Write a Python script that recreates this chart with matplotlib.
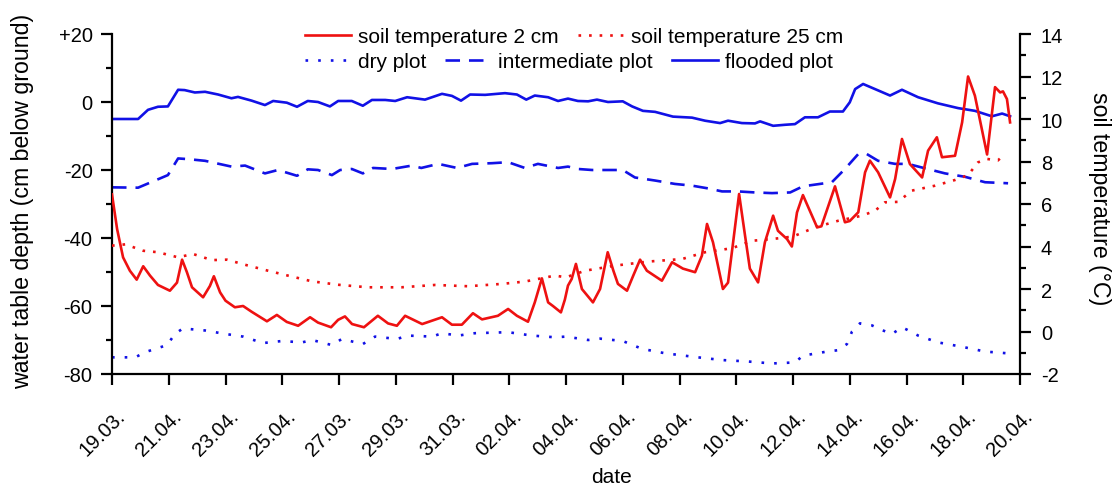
import matplotlib
matplotlib.use("Agg")
import matplotlib.pyplot as plt
from matplotlib.lines import Line2D
from matplotlib.transforms import ScaledTranslation

plt.rcParams['font.family'] = ['Liberation Sans', 'DejaVu Sans']

# ---------------- data ----------------
tick_days = [0, 2, 4, 6, 8, 10, 12, 14, 16, 18, 20, 22, 24, 26, 28, 30, 32]
tick_labels = ["19.03.", "21.04.", "23.04.", "25.04.", "27.03.", "29.03.", "31.03.",
               "02.04.", "04.04.", "06.04.", "08.04.", "10.04.", "12.04.", "14.04.",
               "16.04.", "18.04.", "20.04."]

flood_days = [0, 0.92, 1.27, 1.62, 1.97, 2.33, 2.56, 2.92, 3.28, 3.74, 4.21, 4.44, 4.92,
              5.39, 5.68, 6.16, 6.52, 6.9, 7.26, 7.68, 7.97, 8.45, 8.84, 9.16, 9.63, 9.98,
              10.4, 11.03, 11.63, 11.98, 12.3, 12.62, 13.15, 13.85, 14.27, 14.6, 14.9,
              15.37, 15.72, 16.07, 16.42, 16.78, 17.09, 17.48, 18.0, 18.33, 18.71, 19.14,
              19.77, 20.44, 20.9, 21.43, 21.71, 22.2, 22.66, 22.84, 23.3, 23.72, 24.07,
              24.42, 24.88, 25.3, 25.76, 26.0, 26.19, 26.47, 26.89, 27.42, 27.84, 28.41,
              29.11, 29.82, 30.41, 31.01, 31.37, 31.65]
flood_depth = [-5.0, -5.0, -2.3, -1.4, -1.3, 3.6, 3.5, 2.8, 3.0, 2.2, 1.1, 1.5, 0.4,
               -0.9, 0.3, -0.2, -1.4, 0.3, 0.0, -1.3, 0.3, 0.3, -1.1, 0.6, 0.6, 0.3,
               1.4, 0.7, 2.4, 1.8, 0.4, 2.2, 2.1, 2.6, 2.2, 0.7, 1.9,
               1.4, 0.3, 1.0, 0.3, 0.2, 0.7, 0.0, 0.2, -1.3, -2.6, -2.9,
               -4.3, -4.6, -5.5, -6.2, -5.5, -6.2, -6.3, -5.7, -7.0, -6.7, -6.5,
               -4.5, -4.5, -2.8, -2.8, -0.1, 3.8, 5.3, 3.8, 1.9, 3.6, 1.4,
               -0.4, -1.8, -2.6, -4.2, -3.4, -4.2]

inter_days = [0, 0.92, 1.97, 2.33, 2.68, 3.28, 4.21, 4.69, 5.39, 5.85, 6.52, 6.9, 7.26,
              7.75, 8.04, 8.45, 8.84, 9.2, 9.87, 10.57, 10.9, 11.5, 12.16, 12.69, 13.39,
              13.96, 14.55, 15.01, 15.72, 16.07, 16.42, 16.92, 17.62, 18.0, 18.43, 19.14,
              19.84, 20.44, 21.0, 21.5, 22.06, 22.66, 23.26, 23.9, 24.35, 25.37, 25.83,
              26.3, 26.6, 27.0, 27.6, 28.05, 28.65, 29.36, 30.06, 30.77, 31.58]
inter_depth = [-25.1, -25.2, -21.5, -16.6, -16.8, -17.3, -19.0, -18.7, -21.0, -20.0, -21.7,
               -19.8, -20.0, -21.5, -20.0, -19.7, -21.0, -19.4, -19.7, -18.7, -19.4, -18.2,
               -19.4, -18.2, -18.0, -17.7, -19.4, -18.2, -19.4, -19.0, -19.7, -20.0, -20.0,
               -20.0, -22.2, -23.1, -24.1, -24.6, -25.4, -26.3, -26.3, -26.6, -26.8, -26.6,
               -24.8, -23.6, -19.7, -15.3, -15.3, -17.3, -18.2, -18.2, -19.5, -21.0, -22.0,
               -23.6, -23.9]

dry_days = [0, 0.82, 1.16, 1.94, 2.22, 2.5, 3.28, 3.98, 4.62, 5.32, 5.99, 6.7, 7.05, 7.75,
            8.1, 8.84, 9.27, 10.04, 10.43, 11.28, 11.63, 12.2, 12.79, 13.96, 14.8, 15.61,
            16.0, 16.78, 17.2, 18.0, 18.68, 19.49, 20.65, 21.5, 22.38, 23.26, 24.07, 24.35,
            25.2, 25.59, 25.9, 26.08, 26.36, 26.78, 27.14, 27.49, 27.84, 28.0, 28.41,
            29.11, 29.96, 30.77, 31.54]
dry_depth = [-75.1, -75.1, -73.6, -71.5, -68.2, -66.6, -67.2, -68.2, -69.0, -70.9, -70.3,
             -70.7, -70.0, -71.5, -69.7, -71.2, -69.0, -69.7, -68.7, -69.0, -68.0, -68.7,
             -68.0, -67.7, -68.7, -69.2, -69.0, -70.0, -69.6, -70.3, -72.6, -73.9, -75.1,
             -75.9, -76.3, -76.9, -76.6, -74.6, -73.4, -73.0, -71.2, -67.5, -65.1, -65.7,
             -67.1, -68.2, -66.3, -66.9, -68.7, -70.7, -72.0, -73.4, -73.9]

t25_days = [0, 0.47, 1.1, 1.62, 2.33, 2.85, 3.52, 4.05, 4.69, 5.5, 6.2, 7.05, 7.97, 9.02,
            10.2, 11.38, 12.55, 13.74, 14.55, 15.61, 16.0, 16.67, 17.73, 18.89, 20.09,
            20.9, 21.85, 22.56, 23.26, 24.0, 24.78, 25.59, 26.43, 26.89, 27.24, 27.7,
            28.19, 29.0, 29.71, 30.17, 30.52, 30.84, 31.22, 31.47]
t25_temp = [4.04, 4.1, 3.8, 3.73, 3.49, 3.65, 3.36, 3.38, 3.14, 2.86, 2.63, 2.36, 2.2, 2.08,
            2.08, 2.19, 2.13, 2.24, 2.35, 2.63, 2.55, 2.86, 3.1, 3.29, 3.41,
            3.73, 3.92, 4.27, 4.35, 4.47, 4.9, 5.21, 5.45, 5.68, 6.08, 6.1,
            6.63, 6.86, 7.13, 7.36, 7.96, 8.12, 8.05, 8.35]

t2_days = [0, 0.18, 0.39, 0.63, 0.87, 1.1, 1.34, 1.62, 2.04, 2.29, 2.47, 2.64, 2.82, 3.21,
           3.45, 3.59, 3.81, 4.0, 4.33, 4.62, 4.92, 5.46, 5.81, 6.16, 6.56, 6.98, 7.26,
           7.72, 7.97, 8.21, 8.46, 8.88, 9.37, 9.73, 10.04, 10.33, 10.93, 11.63, 11.98,
           12.33, 12.72, 13.04, 13.6, 13.96, 14.27, 14.66, 14.9, 15.15, 15.37, 15.54,
           15.82, 15.96, 16.07, 16.2, 16.35, 16.56, 16.95, 17.2, 17.47, 17.67, 17.83,
           18.15, 18.37, 18.61, 18.85, 19.38, 19.74, 20.12, 20.55, 20.79, 20.97, 21.18,
           21.53, 21.71, 21.89, 22.1, 22.31, 22.48, 22.77, 23.01, 23.3, 23.47, 23.79,
           23.96, 24.14, 24.35, 24.85, 25.0, 25.48, 25.83, 26.0, 26.3, 26.54, 26.71,
           27.0, 27.42, 27.6, 27.84, 28.12, 28.55, 28.76, 29.07, 29.25, 29.71, 29.96,
           30.17, 30.41, 30.84, 31.12, 31.3, 31.4, 31.54, 31.65]
t2_temp = [6.45, 4.82, 3.49, 2.86, 2.44, 3.07, 2.63, 2.19, 1.92, 2.3, 3.38, 2.79, 2.08, 1.61,
           2.14, 2.6, 1.84, 1.45, 1.14, 1.2, 0.93, 0.48, 0.78, 0.45, 0.27, 0.67, 0.42,
           0.2, 0.55, 0.71, 0.35, 0.2, 0.74, 0.38, 0.27, 0.74, 0.35, 0.67, 0.32,
           0.32, 0.86, 0.57, 0.74, 1.06, 0.74, 0.46, 1.37, 2.5, 1.37, 1.2,
           0.9, 1.5, 2.16, 2.47, 3.18, 2.0, 1.37, 2.0, 3.73, 2.86, 2.24,
           1.92, 2.63, 3.38, 2.86, 2.39, 3.26, 2.96, 2.79, 3.57, 5.06, 4.2,
           2.0, 2.3, 4.2, 6.47, 4.51, 2.96, 2.31, 4.2, 5.45, 4.74, 4.35,
           4.0, 5.6, 6.42, 4.9, 4.95, 6.83, 5.14, 5.2, 5.61, 7.49, 8.04,
           7.49, 6.31, 7.18, 9.06, 7.88, 7.25, 8.51, 9.14, 8.2, 8.27, 9.84,
           12.0, 11.1, 8.33, 11.5, 11.25, 11.3, 10.94, 9.84]

# ---------------- styling ----------------
RED = '#ee1111'
BLUE = '#1111e6'
LW = 1.9

fig = plt.figure(figsize=(11.16, 4.89), dpi=100)
ax = fig.add_axes([112 / 1116, 1 - 375 / 489, 908 / 1116, 340 / 489])
ax2 = ax.twinx()

ax.plot(dry_days, dry_depth, color=BLUE, lw=LW, linestyle=(0, (1, 3.8)))
ax.plot(inter_days, inter_depth, color=BLUE, lw=LW, linestyle=(0, (5.5, 3.4)))
ax.plot(flood_days, flood_depth, color=BLUE, lw=LW, linestyle='-')
ax2.plot(t25_days, t25_temp, color=RED, lw=LW, linestyle=(0, (1, 3.0)))
ax2.plot(t2_days, t2_temp, color=RED, lw=LW, linestyle='-')

ax.set_xlim(0, 32)
ax.set_ylim(-80, 20)
ax2.set_ylim(-2, 14)

for s in ['top', 'right']:
    ax.spines[s].set_visible(False)
for s in ['top', 'left', 'bottom']:
    ax2.spines[s].set_visible(False)
ax.spines['left'].set_linewidth(1.6)
ax.spines['bottom'].set_linewidth(1.6)
ax2.spines['right'].set_linewidth(1.6)

ax.set_yticks([-80, -60, -40, -20, 0, 20])
ax.set_yticklabels(['-80', '-60', '-40', '-20', '0', '+20'])
ax.set_yticks([-70, -50, -30, -10, 10], minor=True)
ax2.set_yticks([-2, 0, 2, 4, 6, 8, 10, 12, 14])
ax2.set_yticklabels(['-2', '0', '2', '4', '6', '8', '10', '12', '14'])
ax2.set_yticks([-1, 1, 3, 5, 7, 9, 11, 13], minor=True)

ax.set_xticks(tick_days)
ax.set_xticklabels(tick_labels, rotation=45, ha='right', va='center',
                   rotation_mode='anchor')

ax.tick_params(axis='both', which='major', direction='out', length=8, width=1.6,
               labelsize=14.5, colors='black')
ax.tick_params(axis='y', which='minor', direction='out', length=4.5, width=1.6)
ax.tick_params(axis='y', which='major', pad=6)
ax.tick_params(axis='x', which='major', pad=20)
ax2.tick_params(axis='y', which='major', direction='out', length=8, width=1.6,
                labelsize=14.5, pad=7)
ax2.tick_params(axis='y', which='minor', direction='out', length=4.5, width=1.6)

offset = ScaledTranslation(10 / 100, 0, fig.dpi_scale_trans)
for lab in ax.get_xticklabels():
    lab.set_transform(lab.get_transform() + offset)

fig.text(23 / 1116, 1 - 201 / 489, 'water table depth (cm below ground)', rotation=90,
         ha='center', va='center', fontsize=16.7)
fig.text(1099 / 1116, 1 - 199 / 489, 'soil temperature (°C)', rotation=270,
         ha='center', va='center', fontsize=16.7)
fig.text(612 / 1116, 1 - 478 / 489, 'date', ha='center', va='center', fontsize=15)

h_t2 = Line2D([], [], color=RED, lw=LW, linestyle='-')
h_t25 = Line2D([], [], color=RED, lw=LW, linestyle=(0, (1, 3.0)))
h_dry = Line2D([], [], color=BLUE, lw=LW, linestyle=(0, (1, 3.8)))
h_int = Line2D([], [], color=BLUE, lw=LW, linestyle=(0, (5.5, 3.4)))
h_fl = Line2D([], [], color=BLUE, lw=LW, linestyle='-')

leg_kw = dict(frameon=False, fontsize=15, handlelength=2.2, handletextpad=0.35,
              columnspacing=0.9, borderaxespad=0, borderpad=0, loc='upper left')
leg1 = fig.legend([h_t2, h_t25], ['soil temperature 2 cm', 'soil temperature 25 cm'],
                  ncol=2, bbox_to_anchor=(305 / 1116, 1 - 28 / 489), **leg_kw)
leg2 = fig.legend([h_dry, h_int, h_fl], ['dry plot', 'intermediate plot', 'flooded plot'],
                  ncol=3, bbox_to_anchor=(305 / 1116, 1 - 53 / 489), **leg_kw)

fig.savefig('out.png', dpi=100)
